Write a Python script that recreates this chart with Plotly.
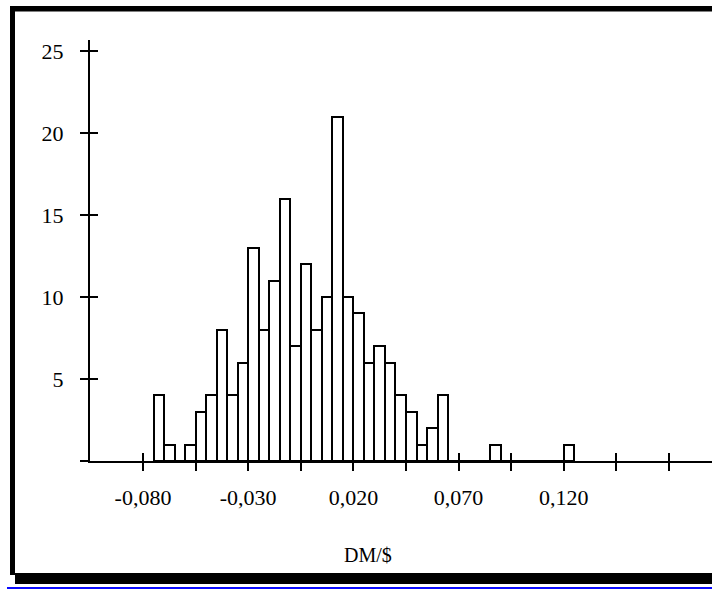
import plotly.graph_objects as go

# Histogram bins (lower edge of each 0.005-wide class) and counts
bin_lo = [-0.075, -0.070, -0.065, -0.060, -0.055, -0.050, -0.045, -0.040,
          -0.035, -0.030, -0.025, -0.020, -0.015, -0.010, -0.005, 0.000,
          0.005, 0.010, 0.015, 0.020, 0.025, 0.030, 0.035, 0.040,
          0.045, 0.050, 0.055, 0.060, 0.065, 0.070, 0.075, 0.080,
          0.085, 0.090, 0.095, 0.100, 0.105, 0.110, 0.115, 0.120]
counts = [4, 1, 0, 1, 3, 4, 8, 4,
          6, 13, 8, 11, 16, 7, 12, 8,
          10, 21, 10, 9, 6, 7, 6, 4,
          3, 1, 2, 4, 0, 0, 0, 0,
          1, 0, 0, 0, 0, 0, 0, 1]
bin_width = 0.005

x_tickvals = [-0.080, -0.055, -0.030, -0.005, 0.020, 0.045, 0.070, 0.095, 0.120, 0.145, 0.170]
x_ticktext = ["-0,080", "", "-0,030", "", "0,020", "", "0,070", "", "0,120", "", ""]
y_tickvals = [0, 5, 10, 15, 20, 25]
y_ticktext = ["", "5", "10", "15", "20", "25"]
x_title = "DM/$"

W, H = 712, 589
L, R, T, B = 90, 0, 40, 128
X_RANGE = [-0.10519, 0.19044]
Y_RANGE = [0, 25.67]

font = dict(family="Liberation Serif, Times New Roman, serif", size=20, color="black")
tick_font = dict(family="Liberation Serif, Times New Roman, serif", size=22, color="black")

centers = [v + bin_width / 2 for v in bin_lo]

fig = go.Figure()
fig.add_trace(go.Bar(
    x=centers, y=counts, width=bin_width,
    marker=dict(color="white", line=dict(color="black", width=2)),
    showlegend=False, hoverinfo="x+y",
))
# invisible trace on the overlay axes so they render
fig.add_trace(go.Scatter(x=[None], y=[None], xaxis="x2", yaxis="y2",
                         showlegend=False, hoverinfo="skip"))

axis_common = dict(showgrid=False, zeroline=False, tickwidth=2, ticklen=8,
                   tickcolor="black", linecolor="black", linewidth=2)

fig.update_layout(
    width=W, height=H,
    margin=dict(l=L, r=R, t=T, b=B, pad=0),
    paper_bgcolor="white", plot_bgcolor="white",
    font=font,
    bargap=0,
    xaxis=dict(range=X_RANGE, tickvals=x_tickvals, ticktext=x_ticktext,
               ticks="outside", showline=True, ticklabelstandoff=8,
               tickfont=tick_font, **axis_common),
    yaxis=dict(range=Y_RANGE, tickvals=y_tickvals, ticktext=y_ticktext,
               ticks="outside", showline=True, ticklabelstandoff=12,
               tickfont=tick_font, **axis_common),
    xaxis2=dict(range=X_RANGE, tickvals=x_tickvals, overlaying="x",
                ticks="inside", showline=False, showticklabels=False,
                anchor="y2", **axis_common),
    yaxis2=dict(range=Y_RANGE, tickvals=y_tickvals, overlaying="y",
                ticks="inside", showline=False, showticklabels=False,
                anchor="x2", **axis_common),
)

pw = W - L - R
ph = H - T - B

def px(xp):
    return (xp - L) / pw

def py(yp):
    return (H - B - yp) / ph

shapes = [
    # left frame band
    dict(x0=px(10), x1=px(15), y0=py(6), y1=py(575)),
    # top frame band
    dict(x0=px(10), x1=px(W + 5), y0=py(6), y1=py(11.5)),
    # bottom frame line / shadow
    dict(x0=px(10), x1=px(W + 5), y0=py(573), y1=py(575)),
    dict(x0=px(15), x1=px(W + 5), y0=py(574), y1=py(584)),
]
for s in shapes:
    fig.add_shape(type="rect", xref="paper", yref="paper", line=dict(width=0),
                  fillcolor="black", layer="above", **s)
fig.add_shape(type="rect", xref="paper", yref="paper", line=dict(width=0),
              fillcolor="#0a0aff", layer="above",
              x0=px(7), x1=px(W + 5), y0=py(587), y1=py(589.5))

fig.add_annotation(text=x_title, xref="paper", yref="paper",
                   x=px(368), y=py(555), xanchor="center", yanchor="middle",
                   showarrow=False, font=font)

fig.write_html("out.html")
